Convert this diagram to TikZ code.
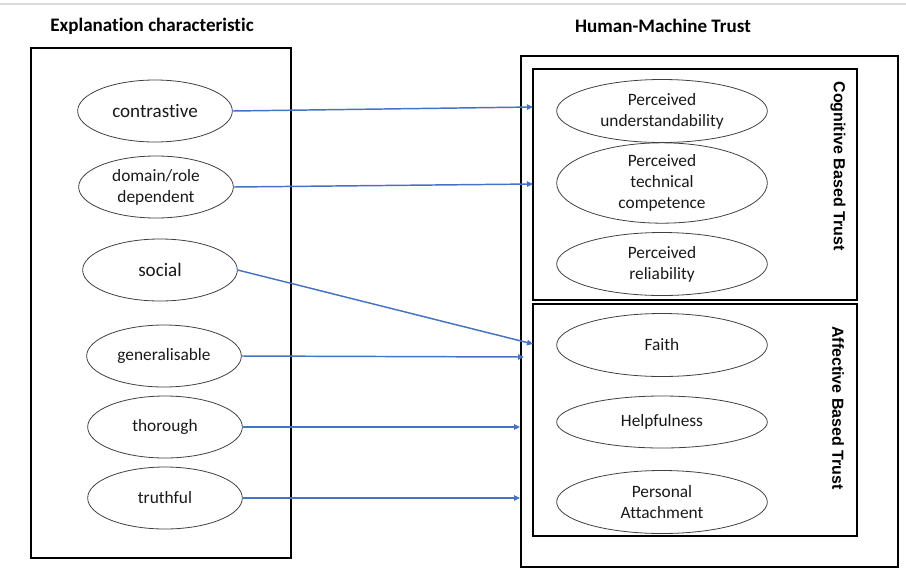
\documentclass[tikz,border=0pt]{standalone}
\usepackage{fontspec}
\setmainfont{Carlito}[Ligatures=CommonOff]
\newfontfamily\arialfont{Liberation Sans}
\usepackage{tikz}
\usetikzlibrary{shapes.geometric,arrows.meta}

\definecolor{linkblue}{HTML}{4472C4}

\begin{document}
\begin{tikzpicture}[x=0.75pt,y=-0.75pt,
	trait/.style={draw=black!75,line width=0.6pt,ellipse,inner sep=0pt,align=center,
		minimum width=116pt,minimum height=46.5pt,text=black!90,font=\fontsize{13}{15.75}\selectfont},
	big/.style={font=\fontsize{14.3}{17}\selectfont},
	trust/.style={trait,minimum width=158pt,minimum height=47.25pt},
	box/.style={draw=black,line width=1.5pt},
	link/.style={draw=linkblue,line width=1.1pt,-{Triangle[length=4.5pt,width=4pt]}},
	title/.style={font=\fontsize{14.3}{17}\selectfont\bfseries},
	side/.style={rotate=-90,font=\arialfont\fontsize{12}{14}\selectfont\bfseries}]
		\useasboundingbox (0,0) rectangle (906,568);
		\draw[black!15,line width=2pt] (0,4) -- (906,4);
		
		% titles
		\node[title] (lefttitle) at (152,26) {Explanation characteristic};
		\node[title] (righttitle) at (663,26) {Human-Machine Trust};
		
		% boxes
		\draw[box] (31,48) rectangle (291,558);
		\draw[box] (521,56) rectangle (898,567);
		\draw[box] (533,69) rectangle (857,300);
		\draw[box] (533,304) rectangle (857,536);
		\node[side] (cogn) at (838,166) {Cognitive Based Trust};
		\node[side] (affect) at (838,408) {Affective Based Trust};
		
		% explanation characteristics
		\node[trait,big] (contr) at (155,111) {contrastive};
		\node[trait] (domain) at (156,187) {domain/role\\dependent};
		\node[trait,big] (social) at (160,270) {social};
		\node[trait] (general) at (164,356) {generalisable};
		\node[trait] (thorough) at (165,427) {thorough};
		\node[trait] (truth) at (165,498) {truthful};
		
		% trust
		\node[trust] (underst) at (662,111) {Perceived\\understandability};
		\node[trust] (compet) at (662,183) {Perceived\\technical\\competence};
		\node[trust] (reliab) at (662,264) {Perceived\\reliability};
		\node[trust] (faith) at (662,345) {Faith};
		\node[trust,minimum height=39pt] (help) at (662,422) {Helpfulness};
		\node[trust] (attach) at (662,502) {Personal\\Attachment};
		
		% arrow ends
		\coordinate (e1) at (533,107);
		\coordinate (e2) at (533,184);
		\coordinate (e3) at (533,344);
		\coordinate (e4) at (524,357);
		\coordinate (e5) at (520,427);
		\coordinate (e6) at (520,498);
		
		\draw[link] (contr.east) -- (e1);
		\draw[link] (domain.east) -- (e2);
		\draw[link] (social.east) -- (e3);
		\draw[link] (general.east) -- (e4);
		\draw[link] (thorough.east) -- (e5);
		\draw[link] (truth.east) -- (e6);
\end{tikzpicture}
\end{document}
